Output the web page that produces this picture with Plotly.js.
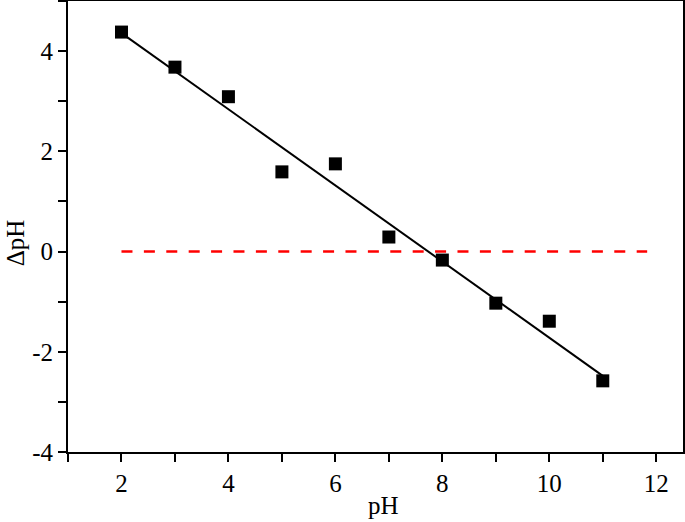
<!DOCTYPE html>
<html>
<head>
<meta charset="utf-8">
<script src="https://cdn.plot.ly/plotly-3.0.1.min.js"></script>
<style>
  html, body { margin: 0; padding: 0; background: #fff; }
  #chart { width: 685px; height: 522px; }
</style>
</head>
<body>
<div id="chart"></div>
<script>
// measured points
const phValues = [2, 3, 4, 5, 6, 7, 8, 9, 10, 11];
const deltaPh = [4.38, 3.68, 3.09, 1.59, 1.75, 0.29, -0.17, -1.03, -1.39, -2.58];

// linear fit, endpoints
const fitX = [2, 11];
const fitY = [4.36, -2.48];

// zero reference line
const zeroX = [2, 11.83];
const zeroY = [0, 0];

const xTitle = 'pH';
const yTitle = 'ΔpH';

const serif = '"Liberation Serif", "Times New Roman", Times, serif';

const traces = [
  {
    x: zeroX, y: zeroY, mode: 'lines', type: 'scatter',
    line: { color: '#ff0000', width: 2.5, dash: '11px,11.4px' }, hoverinfo: 'skip'
  },
  {
    x: fitX, y: fitY, mode: 'lines', type: 'scatter',
    line: { color: '#000', width: 2 }, hoverinfo: 'skip'
  },
  {
    x: phValues, y: deltaPh, mode: 'markers', type: 'scatter',
    marker: { symbol: 'square', size: 13, color: '#000' }
  }
];

const axisCommon = {
  showgrid: false, zeroline: false,
  showline: true, linecolor: '#000', linewidth: 2, mirror: true,
  ticks: 'outside', ticklen: 8, tickwidth: 2, tickcolor: '#000',
  tickfont: { family: serif, size: 25, color: '#000' }
};

// axis titles sit a bit off-centre in the original, so place them by hand
const titleFont = { family: serif, size: 25, color: '#000' };

const layout = {
  width: 685, height: 522,
  paper_bgcolor: '#fff', plot_bgcolor: '#fff',
  showlegend: false,
  font: { family: serif, size: 25, color: '#000' },
  margin: { l: 68, r: 2, t: 1, b: 70 },
  xaxis: Object.assign({}, axisCommon, {
    range: [1, 12.5],
    tickvals: [1, 2, 3, 4, 5, 6, 7, 8, 9, 10, 11, 12],
    ticktext: ['', '2', '', '4', '', '6', '', '8', '', '10', '', '12']
  }),
  yaxis: Object.assign({}, axisCommon, {
    range: [-4, 5],
    tickvals: [-4, -3, -2, -1, 0, 1, 2, 3, 4, 5],
    ticktext: ['-4', '', '-2', '', '0', '', '2', '', '4', '']
  }),
  annotations: [
    {
      text: xTitle, xref: 'paper', yref: 'paper', x: 0.513, y: -0.118,
      xanchor: 'center', yanchor: 'middle', showarrow: false, font: titleFont,
      borderpad: 0
    },
    {
      text: yTitle, xref: 'paper', yref: 'paper', x: -0.086, y: 0.463,
      xanchor: 'center', yanchor: 'middle', showarrow: false, textangle: -90, font: titleFont,
      borderpad: 0
    }
  ]
};

Plotly.newPlot('chart', traces, layout, { staticPlot: true });
</script>
</body>
</html>
